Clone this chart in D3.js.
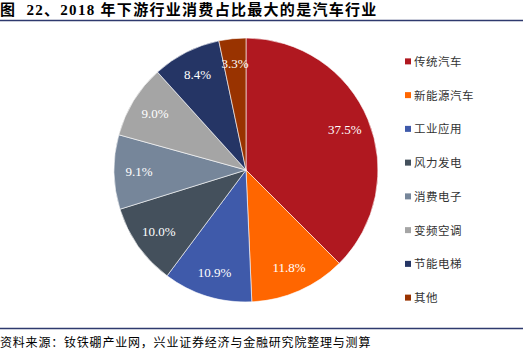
<!DOCTYPE html>
<html><head><meta charset="utf-8">
<script src="https://cdn.jsdelivr.net/npm/d3@7"></script>
<style>body{margin:0;background:#fff}svg{display:block}text{white-space:pre}</style>
</head><body>
<script>
const categories = ["传统汽车","新能源汽车","工业应用","风力发电","消费电子","变频空调","节能电梯","其他"];
const values = [37.5, 11.8, 10.9, 10.0, 9.1, 9.0, 8.4, 3.3];
const colors = ["#B01820","#FF6600","#3F5AAA","#44505C","#76869A","#A5A5A5","#253565","#993300"];
const title = "图  22、2018 年下游行业消费占比最大的是汽车行业";
const source = "资料来源：钕铁硼产业网，兴业证券经济与金融研究院整理与测算";

const W = 523, H = 361;
const svg = d3.select("body").append("svg").attr("width", W).attr("height", H);

svg.append("text").attr("x", 0).attr("y", 15)
  .attr("font-family", "'Liberation Serif','Noto Sans CJK SC',serif")
  .attr("font-weight", "bold").attr("font-size", 15).attr("letter-spacing", 1.3)
  .attr("fill", "#000").text(title);
svg.append("line").attr("x1", 0).attr("x2", W).attr("y1", 20.5).attr("y2", 20.5)
  .attr("stroke", "#2E3A6E").attr("stroke-width", 1.5);
svg.append("line").attr("x1", 0).attr("x2", W).attr("y1", 328.5).attr("y2", 328.5)
  .attr("stroke", "#2E3A6E").attr("stroke-width", 1.5);
svg.append("text").attr("x", 0).attr("y", 347)
  .attr("font-family", "'Noto Sans CJK SC',sans-serif").attr("font-size", 12)
  .attr("letter-spacing", 0.8).attr("fill", "#000")
  .text(source);

const cx = 246, cy = 170, r = 132;
const pie = d3.pie().sort(null).value(d => d)(values);
const arc = d3.arc().innerRadius(0).outerRadius(r);
const labelArc = d3.arc().innerRadius(r * 0.81).outerRadius(r * 0.81);
const g = svg.append("g").attr("transform", `translate(${cx},${cy})`);
g.selectAll("path").data(pie).join("path")
  .attr("d", arc).attr("fill", (d, i) => colors[i])
  .attr("stroke", "#fff").attr("stroke-width", 0.6);
g.selectAll("text").data(pie).join("text")
  .attr("transform", d => `translate(${labelArc.centroid(d)})`)
  .attr("text-anchor", "middle").attr("dy", "0.35em")
  .attr("font-family", "'Liberation Serif',serif").attr("font-size", 13).attr("fill", "#fff")
  .text(d => d.data.toFixed(1) + "%");

const y = d3.scaleBand().domain(categories).range([45, 315]);
const leg = svg.append("g");
const items = leg.selectAll("g").data(categories).join("g")
  .attr("transform", d => `translate(405,${y(d) + y.bandwidth() / 2})`);
items.append("rect").attr("x", 0).attr("y", -3.5).attr("width", 6).attr("height", 6)
  .attr("fill", (d, i) => colors[i]);
items.append("text").attr("x", 9).attr("y", 0).attr("dy", "0.35em")
  .attr("font-family", "'Noto Sans CJK SC',sans-serif").attr("font-size", 11.5)
  .attr("letter-spacing", 0.5).attr("fill", "#333").text(d => d);
</script>
</body></html>
